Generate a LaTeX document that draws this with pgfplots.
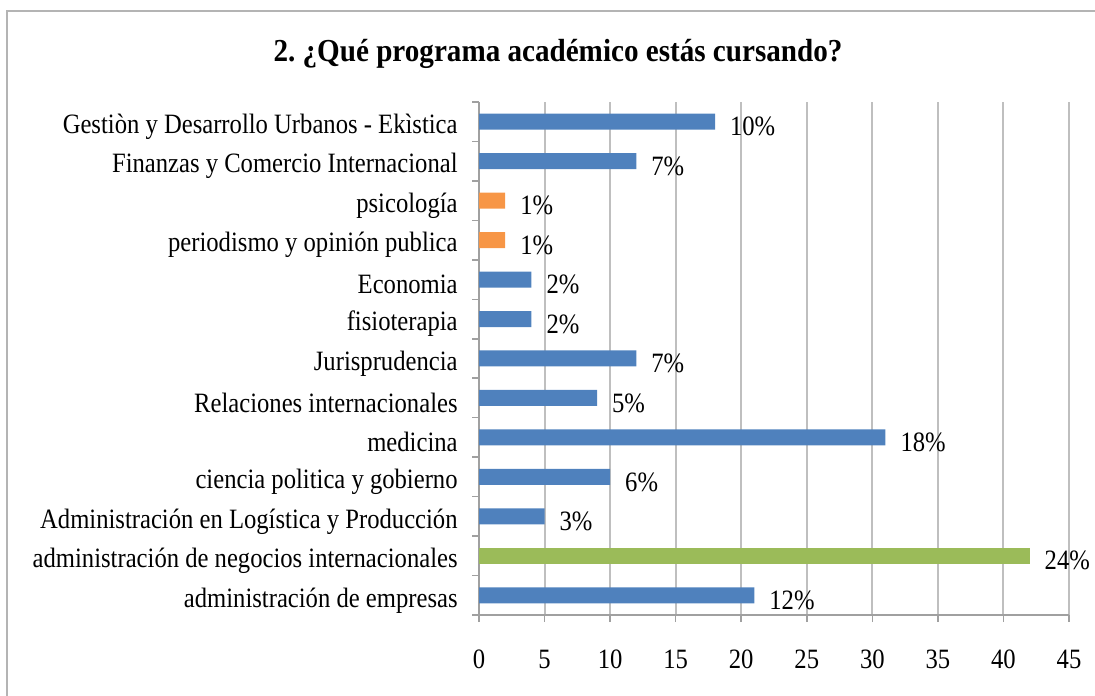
\documentclass[border=0pt]{standalone}
\usepackage{pgfplots}
\pgfplotsset{compat=1.18}
\usepackage{fontspec}
\setmainfont{Liberation Serif}[FakeStretch=0.88]
\newfontfamily\titlefont{Liberation Serif}[FakeStretch=0.91]
\definecolor{cblue}{HTML}{4F81BD}
\definecolor{corange}{HTML}{F79646}
\definecolor{cgreen}{HTML}{9BBB59}
\definecolor{gridgray}{HTML}{BFBFBF}
\definecolor{axisgray}{HTML}{A0A0A0}
\definecolor{framegray}{HTML}{B4B4B4}
\frenchspacing
\begin{document}
\begin{tikzpicture}
\path[use as bounding box] (0,0) rectangle (547.5pt,347.5pt);
\draw[framegray, line width=1pt] (3.5pt,-10pt) -- (3.5pt,342pt) -- (560pt,342pt);
\node[font=\titlefont\bfseries\fontsize{16}{19}\selectfont, anchor=base] at (279pt,316.5pt) {2. ¿Qué programa académico estás cursando?};
\begin{axis}[
  at={(239.5pt,40pt)}, anchor=south west,
  scale only axis, width=295pt, height=256.5pt,
  xmin=0, xmax=45, ymin=-0.5, ymax=12.5,
  axis x line*=bottom, axis y line*=left,
  axis line style={draw=axisgray, line width=0.8pt},
  xtick={0,5,...,45},
  ytick={-0.5,0.5,...,12.5}, yticklabels={},
  extra y ticks={0,1,2,3,4,5,6,7,8,9,10,11,12},
  extra y tick labels={{administración de empresas},{administración de negocios internacionales\hspace{2.5pt}},{Administración en Logística y Producción\hspace{2.5pt}},{ciencia politica y gobierno},{medicina},{Relaciones internacionales},{Jurisprudencia},{fisioterapia},{Economia},{periodismo y opinión publica},{psicología},{Finanzas y Comercio Internacional},{Gestiòn y Desarrollo Urbanos - Ekìstica}},
  extra y tick style={major tick length=0pt, yticklabel style={anchor=east, inner sep=0pt, xshift=-10.5pt, yshift=-2.5pt}},
  xmajorgrids, grid style={gridgray, line width=1pt},
  tick style={axisgray, line width=0.8pt},
  tick align=outside, major tick length=3.5pt,
  every tick label/.append style={font=\fontsize{14}{16}\selectfont, text=black},
  /pgf/number format/assume math mode=true,
  xticklabel style={yshift=-10.5pt},
  xbar, bar width=8pt, bar shift=0pt,
  point meta=explicit symbolic,
  nodes near coords={\pgfplotspointmeta\%},
  every node near coord/.append style={font=\fontsize{14}{16}\selectfont, text=black, anchor=west, xshift=4pt, yshift=-2.5pt},
]
\addplot[fill=cblue, draw=none] coordinates {
(21,0) [12]
(5,2) [3]
(10,3) [6]
(31,4) [18]
(9,5) [5]
(12,6) [7]
(4,7) [2]
(4,8) [2]
(12,11) [7]
(18,12) [10]
};
\addplot[fill=cgreen, draw=none] coordinates {
(42,1) [24]
};
\addplot[fill=corange, draw=none] coordinates {
(2,9) [1]
(2,10) [1]
};
\end{axis}
\end{tikzpicture}
\end{document}
